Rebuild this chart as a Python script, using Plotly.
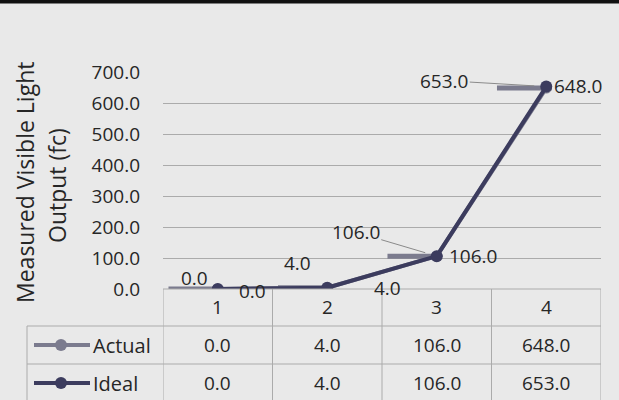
import plotly.graph_objects as go

categories = [1, 2, 3, 4]
actual = [0.0, 4.0, 106.0, 648.0]
ideal = [0.0, 4.0, 106.0, 653.0]
series_names = ["Actual", "Ideal"]
y_title = ["Measured Visible Light", "Output (fc)"]
y_ticks = [0, 100, 200, 300, 400, 500, 600, 700]

W, H = 619, 400
L, R, T, B = 163, 18, 72, 111
PW, PH = W - L - R, H - T - B


def X(px):
    return (px - L) / PW


def Y(py):
    return (H - B - py) / PH


FONT = "Open Sans"
TXT = "#262626"
GRID = "#ababab"
BG = "#e9e9e9"
C_ACT = "#7b7b8e"
C_IDE = "#3c3c5e"
FS = 19

fig = go.Figure()
fig.add_trace(go.Scatter(
    x=categories, y=actual, mode="lines+markers", name="Actual",
    line=dict(color=C_ACT, width=4), marker=dict(size=11, color=C_ACT),
    error_x=dict(type="data", symmetric=False, array=[0.05] * 4, arrayminus=[0.45] * 4,
                 color=C_ACT, thickness=5, width=0),
))
fig.add_trace(go.Scatter(
    x=categories, y=ideal, mode="lines+markers", name="Ideal",
    line=dict(color=C_IDE, width=4), marker=dict(size=12, color=C_IDE),
))

ann = []
# data labels: Ideal series (left / above)
ideal_off = [(-23, 11, False), (-30, 25, False), (-81, 24, True), (-102, 6, True)]
for c, v, (dx, dy, arrow) in zip(categories, ideal, ideal_off):
    if arrow:
        ann.append(dict(x=c, y=v, xref="x", yref="y", text=f"{v:.1f}", showarrow=True,
                        ax=dx, ay=-dy, arrowhead=0, arrowwidth=1, arrowcolor="#8a8a8a",
                        standoff=12, font=dict(size=FS, color=TXT, family=FONT)))
    else:
        ann.append(dict(x=c, y=v, xref="x", yref="y", text=f"{v:.1f}", showarrow=False,
                        xshift=dx, yshift=dy, font=dict(size=FS, color=TXT, family=FONT)))
# data labels: Actual series (right)
act_off = [(35, -2), (60, 0), (36, 0), (32, 2)]
for c, v, (dx, dy) in zip(categories, actual, act_off):
    ann.append(dict(x=c, y=v, xref="x", yref="y", text=f"{v:.1f}", showarrow=False,
                    xshift=dx, yshift=dy, font=dict(size=FS, color=TXT, family=FONT)))

# y axis title (two lines)
ann.append(dict(x=X(25), y=Y(183), xref="paper", yref="paper", text=y_title[0], textangle=-90,
                xanchor="center", yanchor="middle",
                showarrow=False, font=dict(size=23, color=TXT, family=FONT)))
ann.append(dict(x=X(57), y=Y(186), xref="paper", yref="paper", text=y_title[1], textangle=-90,
                xanchor="center", yanchor="middle",
                showarrow=False, font=dict(size=23, color=TXT, family=FONT)))

# data table text
row_y = [Y(345), Y(383)]
for c in categories:
    ann.append(dict(x=c, y=Y(307), xref="x", yref="paper", text=str(c), showarrow=False,
                    xanchor="center", yanchor="middle",
                    font=dict(size=FS, color=TXT, family=FONT)))
for ry, vals in zip(row_y, [actual, ideal]):
    for c, v in zip(categories, vals):
        ann.append(dict(x=c, y=ry, xref="x", yref="paper", text=f"{v:.1f}", showarrow=False,
                        xanchor="center", yanchor="middle",
                        font=dict(size=FS, color=TXT, family=FONT)))
for ry, name in zip(row_y, series_names):
    ann.append(dict(x=X(91), y=ry, xref="paper", yref="paper", text=name, showarrow=False,
                    xanchor="left", yanchor="middle", font=dict(size=20, color=TXT, family=FONT)))

shapes = []
# top black strip of the scan
shapes.append(dict(type="rect", xref="paper", yref="paper", x0=X(0), x1=X(W),
                   y0=Y(3.5), y1=Y(0), fillcolor="#111111", line=dict(width=0), layer="above"))
# table grid
shapes.append(dict(type="line", xref="paper", yref="paper", x0=X(L), x1=X(W - R), y0=Y(289), y1=Y(289),
                   line=dict(color=GRID, width=1)))
for py in [326, 364]:
    shapes.append(dict(type="line", xref="paper", yref="paper", x0=X(27), x1=X(W - R), y0=Y(py), y1=Y(py),
                       line=dict(color=GRID, width=1)))
shapes.append(dict(type="line", xref="paper", yref="paper", x0=X(27), x1=X(27), y0=Y(326), y1=Y(400),
                   line=dict(color=GRID, width=1)))
for c in [0.5] + [c + 0.5 for c in categories]:
    shapes.append(dict(type="line", xref="x", yref="paper", x0=c, x1=c, y0=Y(289), y1=Y(400),
                       line=dict(color=GRID, width=1)))
# legend keys
for ry, col in zip(row_y, [C_ACT, C_IDE]):
    shapes.append(dict(type="line", xref="paper", yref="paper", x0=X(34), x1=X(90), y0=ry, y1=ry,
                       line=dict(color=col, width=4)))
    shapes.append(dict(type="circle", xref="paper", yref="paper", xsizemode="pixel", ysizemode="pixel",
                       xanchor=X(61), yanchor=ry, x0=-6, x1=6, y0=-6, y1=6,
                       fillcolor=col, line=dict(width=0)))

fig.update_layout(
    width=W, height=H, margin=dict(l=L, r=R, t=T, b=B),
    paper_bgcolor=BG, plot_bgcolor=BG, showlegend=False,
    font=dict(family=FONT, color=TXT),
    annotations=ann, shapes=shapes,
)
fig.update_xaxes(range=[0.5, 4.5], showticklabels=False, showgrid=False, zeroline=False,
                 showline=False, ticks="")
fig.update_yaxes(range=[0, 700], tickvals=y_ticks, tickformat=".1f", showgrid=True,
                 gridcolor=GRID, gridwidth=1, zeroline=False, showline=False,
                 tickfont=dict(size=FS, color=TXT, family=FONT), ticklabelstandoff=22)

fig.write_html("out.html", config={"displayModeBar": False})

# remove the browser's default page margin so the figure sits at the window origin
with open("out.html", encoding="utf-8") as f:
    html = f.read()
html = html.replace("<body>", '<body style="margin:0;padding:0;background:%s">' % BG, 1)
with open("out.html", "w", encoding="utf-8") as f:
    f.write(html)
